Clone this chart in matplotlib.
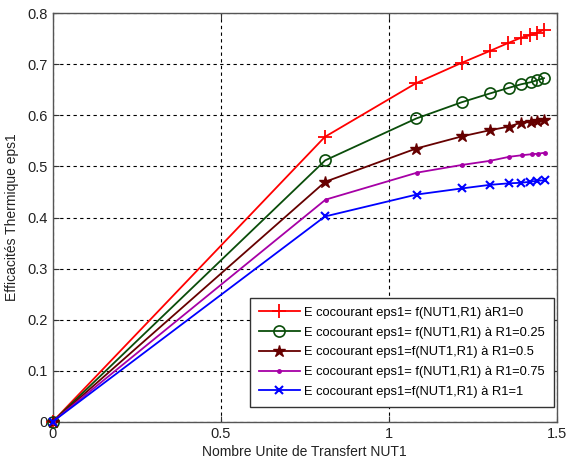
import matplotlib
matplotlib.use("Agg")
import matplotlib.pyplot as plt

plt.rcParams['font.family'] = ['Liberation Sans', 'DejaVu Sans']

nut_r0 = [0, 0.81, 1.081, 1.217, 1.30, 1.356, 1.393, 1.42, 1.442, 1.462]
eps_r0 = [0, 0.558, 0.663, 0.703, 0.726, 0.742, 0.752, 0.757, 0.762, 0.768]

nut_r025 = [0, 0.811, 1.082, 1.218, 1.301, 1.357, 1.394, 1.422, 1.442, 1.462]
eps_r025 = [0, 0.512, 0.594, 0.626, 0.643, 0.654, 0.661, 0.665, 0.669, 0.673]

nut_r05 = [0, 0.811, 1.081, 1.218, 1.301, 1.357, 1.394, 1.422, 1.442, 1.462]
eps_r05 = [0, 0.470, 0.535, 0.559, 0.571, 0.578, 0.586, 0.587, 0.589, 0.591]

nut_r075 = [0, 0.812, 1.085, 1.218, 1.301, 1.359, 1.396, 1.425, 1.445, 1.465]
eps_r075 = [0, 0.435, 0.488, 0.503, 0.511, 0.519, 0.522, 0.524, 0.525, 0.527]

nut_r1 = [0, 0.810, 1.083, 1.218, 1.301, 1.358, 1.393, 1.420, 1.442, 1.465]
eps_r1 = [0, 0.402, 0.445, 0.457, 0.464, 0.467, 0.468, 0.470, 0.472, 0.473]

labels = [
    "E cocourant eps1= f(NUT1,R1) \u00e0R1=0",
    "E cocourant eps1= f(NUT1,R1) \u00e0 R1=0.25",
    "E cocourant eps1=f(NUT1,R1) \u00e0 R1=0.5",
    "E cocourant eps1= f(NUT1,R1) \u00e0 R1=0.75",
    "E cocourant eps1=f(NUT1,R1) \u00e0 R1=1",
]
x_ticks = [0, 0.5, 1, 1.5]
x_tick_labels = ["0", "0.5", "1", "1.5"]
y_ticks = [0, 0.1, 0.2, 0.3, 0.4, 0.5, 0.6, 0.7, 0.8]
y_tick_labels = ["0", "0.1", "0.2", "0.3", "0.4", "0.5", "0.6", "0.7", "0.8"]

fig = plt.figure(figsize=(5.66, 4.63), dpi=100)
ax = fig.add_axes([0.0931, 0.0892, 0.8905, 0.882])

styles = [
    dict(color="#ff0000", marker="+", ms=10, mew=1.3, mfc="none"),
    dict(color="#0a4d0a", marker="o", ms=8, mew=1.2, mfc="none"),
    dict(color="#660000", marker="*", ms=9, mew=1.0),
    dict(color="#a600a6", marker=".", ms=5, mew=1.0),
    dict(color="#0000ff", marker="x", ms=6, mew=1.5),
]
series = [(nut_r0, eps_r0), (nut_r025, eps_r025), (nut_r05, eps_r05),
          (nut_r075, eps_r075), (nut_r1, eps_r1)]
for (xs, ys), st, lab in zip(series, styles, labels):
    ax.plot(xs, ys, lw=1.3, label=lab, clip_on=False, zorder=3, **st)

ax.set_xlim(0, 1.5)
ax.set_ylim(0, 0.8)
ax.set_xticks(x_ticks)
ax.set_xticklabels(x_tick_labels)
ax.set_yticks(y_ticks)
ax.set_yticklabels(y_tick_labels)
ax.tick_params(direction="in", length=4, labelsize=10.5, width=0.8, colors="#333333",
               labelcolor="#222222", top=True, right=True)
ax.tick_params(axis="x", pad=4)
ax.grid(True, color="black", linestyle=(0, (3, 3)), linewidth=0.8)
for s in ax.spines.values():
    s.set_color("#555555")
    s.set_linewidth(1.0)

ax.set_xlabel("Nombre Unite de Transfert NUT1", fontsize=10, color="#222222", labelpad=3)
ax.set_ylabel("Efficacit\u00e9s Thermique eps1", fontsize=10, color="#222222", labelpad=6)

leg = ax.legend(loc="lower right", bbox_to_anchor=(0.995, 0.036), fontsize=9.3,
                frameon=True, fancybox=False, edgecolor="#333333", framealpha=1,
                handlelength=3.2, handletextpad=0.35, borderpad=0.7, labelspacing=0.6,
                borderaxespad=0)
leg.get_frame().set_linewidth(1.0)

fig.savefig("out.png", dpi=100)
